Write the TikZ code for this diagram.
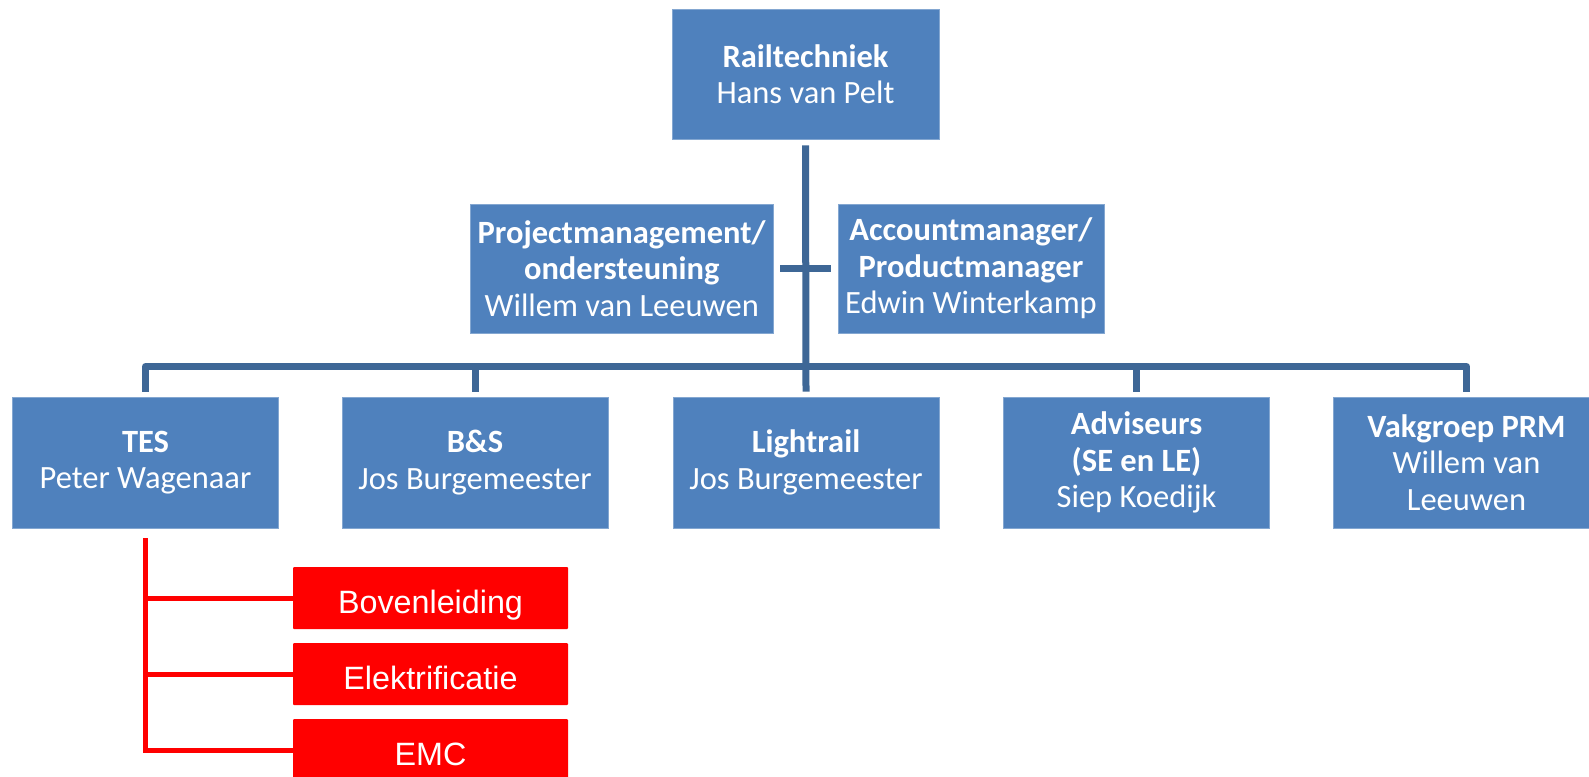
\documentclass[tikz,border=0pt]{standalone}
\usepackage{fontspec}
\newfontfamily\calib{Carlito}
\newfontfamily\arialf{Liberation Sans}
\definecolor{boxblue}{HTML}{4F81BD}
\definecolor{lineblue}{HTML}{3E6796}
\definecolor{redbox}{HTML}{FF0000}
\begin{document}
\begin{tikzpicture}[x=1pt,y=-1pt,
  bluebox/.style={draw=boxblue!70!white, line width=0.8pt, fill=boxblue, text=white,
    inner sep=0pt, align=center, minimum height=130pt,
    font=\calib\fontsize{32.5}{36.5}\selectfont},
  redrect/.style={fill=redbox, text=white, inner sep=0pt, rounded corners=1pt,
    minimum width=275pt, minimum height=62pt, text height=30pt, text depth=0pt,
    font=\arialf\fontsize{32.3}{36}\selectfont},
  conn/.style={draw=lineblue, line width=7pt, line join=round},
  redconn/.style={draw=redbox, line width=5pt, line join=miter}]
\useasboundingbox (0,0) rectangle (1589,776);
\clip (0,0) rectangle (1589,776);
\fill[white] (0,0) rectangle (1589,776);

\node[bluebox, minimum width=267pt] (top) at (805.5,74) {\textbf{Railtechniek}\\Hans van Pelt};
\node[bluebox, minimum width=302.5pt, minimum height=129pt] (pml) at (621.75,268.5)
  {\textbf{Projectmanagement/}\\\textbf{ondersteuning}\\Willem van Leeuwen};
\node[bluebox, minimum width=266pt, minimum height=129pt] (acm) at (971,268.5)
  {\textbf{Accountmanager/}\\\textbf{Productmanager}\\Edwin Winterkamp};

\node[bluebox, minimum width=266pt, minimum height=131pt] (tes) at (145.5,462.5) {\textbf{TES}\\Peter Wagenaar};
\node[bluebox, minimum width=266pt, minimum height=131pt] (bs) at (475,462.5) {\textbf{B\&S}\\Jos Burgemeester};
\node[bluebox, minimum width=266pt, minimum height=131pt] (lr) at (806,462.5) {\textbf{Lightrail}\\Jos Burgemeester};
\node[bluebox, minimum width=266pt, minimum height=131pt] (adv) at (1136.5,462.5) {\textbf{Adviseurs}\\\textbf{(SE en LE)}\\Siep Koedijk};
\node[bluebox, minimum width=266pt, minimum height=131pt] (prm) at (1466.5,462.5) {\textbf{Vakgroep PRM}\\Willem van\\Leeuwen};

\coordinate (bus) at (806,366.5);

% trunk
\draw[conn] ([yshift=-6pt]top.south) -- ([yshift=5pt]lr.north);
% crossbar
\draw[conn, line width=6.5pt] ([xshift=7pt]pml.east) -- ([xshift=-7pt]acm.west);
% bus
\draw[conn] ([yshift=5pt]tes.north) -- (tes.north |- bus) -- (prm.north |- bus) -- ([yshift=5pt]prm.north);
\draw[conn] (bs.north |- bus) -- ([yshift=5pt]bs.north);
\draw[conn] (adv.north |- bus) -- ([yshift=5pt]adv.north);

\node[redrect] (bov) at (430.5,598) {Bovenleiding};
\node[redrect] (elk) at (430.5,674) {Elektrificatie};
\node[redrect] (emc) at (430.5,750) {EMC};

\draw[redconn] ([yshift=-10pt]tes.south) |- (emc.west);
\draw[redconn] (tes.south |- bov.west) -- (bov.west);
\draw[redconn] (tes.south |- elk.west) -- (elk.west);
\end{tikzpicture}
\end{document}
